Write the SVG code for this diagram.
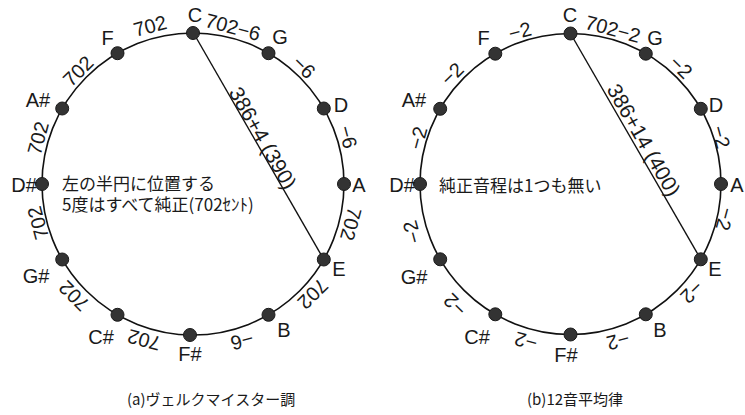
<svg xmlns="http://www.w3.org/2000/svg" width="745" height="415" viewBox="0 0 745 415">
<style>
.circ{fill:none;stroke:#111;stroke-width:1.6}
.chord{stroke:#111;stroke-width:1.4}
.dot{fill:#333;stroke:#1a1a1a;stroke-width:1}
.nm{font-family:"Liberation Sans",Arial,sans-serif;font-size:20px;fill:#1a1a1a;text-anchor:middle}
.iv{font-family:"Liberation Sans",Arial,sans-serif;font-size:20px;fill:#1a1a1a;text-anchor:middle;dominant-baseline:central}
.ch{font-family:"Liberation Sans",Arial,sans-serif;font-size:21px;fill:#1a1a1a;text-anchor:middle;dominant-baseline:central}
.jp{font-family:"Noto Sans CJK JP",sans-serif;font-size:17px;fill:#1a1a1a}
.cap{font-family:"Noto Sans CJK JP",sans-serif;font-size:15px;fill:#1a1a1a}
</style>
<rect width="745" height="415" fill="#fff"/>
<g id="connectors">
<circle class="circ" cx="193" cy="184" r="151"/>
<line class="chord" x1="193.5" y1="33" x2="323.8" y2="259.5"/>
<circle class="circ" cx="570.5" cy="184" r="150.5"/>
<line class="chord" x1="570.5" y1="33.5" x2="700.8" y2="259.3"/>
</g>
<g id="left-circle">
<g id="L-C"><circle class="dot" cx="193" cy="33" r="6.5"/><text class="nm" x="195" y="22">C</text></g>
<g id="L-G"><circle class="dot" cx="268.5" cy="53.2" r="6.5"/><text class="nm" x="280" y="44">G</text></g>
<g id="L-D"><circle class="dot" cx="323.8" cy="108.5" r="6.5"/><text class="nm" x="341" y="112">D</text></g>
<g id="L-A"><circle class="dot" cx="344" cy="184" r="6.5"/><text class="nm" x="359" y="192">A</text></g>
<g id="L-E"><circle class="dot" cx="323.8" cy="259.5" r="6.5"/><text class="nm" x="339" y="276">E</text></g>
<g id="L-B"><circle class="dot" cx="268.5" cy="314.8" r="6.5"/><text class="nm" x="284" y="337">B</text></g>
<g id="L-Fs"><circle class="dot" cx="190" cy="335" r="6.5"/><text class="nm" x="190" y="361">F#</text></g>
<g id="L-Cs"><circle class="dot" cx="117.5" cy="314.8" r="6.5"/><text class="nm" x="101" y="344">C#</text></g>
<g id="L-Gs"><circle class="dot" cx="62.2" cy="259.5" r="6.5"/><text class="nm" x="36" y="283">G#</text></g>
<g id="L-Ds"><circle class="dot" cx="42" cy="184" r="6.5"/><text class="nm" x="24" y="192">D#</text></g>
<g id="L-As"><circle class="dot" cx="62.2" cy="108.5" r="6.5"/><text class="nm" x="38" y="107">A#</text></g>
<g id="L-F"><circle class="dot" cx="117.5" cy="53.2" r="6.5"/><text class="nm" x="107.5" y="45">F</text></g>
<g id="L-labels">
<text class="iv" transform="translate(150,26) rotate(-15)">702</text>
<text class="iv" transform="translate(233,27) rotate(15)">702−6</text>
<text class="iv" transform="translate(304,67) rotate(45)">−6</text>
<text class="iv" transform="translate(348,137) rotate(75)">−6</text>
<text class="iv" transform="translate(351,224) rotate(105)">702</text>
<text class="iv" transform="translate(313,294) rotate(135)">702</text>
<text class="iv" transform="translate(242,341) rotate(165)">−6</text>
<text class="iv" transform="translate(144,340) rotate(195)">702</text>
<text class="iv" transform="translate(74,296) rotate(225)">702</text>
<text class="iv" transform="translate(38,223) rotate(255)">702</text>
<text class="iv" transform="translate(38,138) rotate(285)">702</text>
<text class="iv" transform="translate(78,71) rotate(315)">702</text>
<text class="ch" transform="translate(263,138) rotate(60.2)">386+4 (390)</text>
</g>
<g id="L-note">
<text class="jp" x="62" y="190">左の半円に位置する</text>
<text class="jp" x="62" y="211">5度はすべて純正(702ｾﾝﾄ)</text>
</g>
<text class="cap" x="127" y="405">(a)ヴェルクマイスター調</text>
</g>
<g id="right-circle">
<g id="R-C"><circle class="dot" cx="570.5" cy="33.5" r="6.5"/><text class="nm" x="570" y="22">C</text></g>
<g id="R-G"><circle class="dot" cx="645.8" cy="53.7" r="6.5"/><text class="nm" x="655" y="45">G</text></g>
<g id="R-D"><circle class="dot" cx="700.8" cy="108.8" r="6.5"/><text class="nm" x="716" y="112">D</text></g>
<g id="R-A"><circle class="dot" cx="721" cy="184" r="6.5"/><text class="nm" x="737" y="192">A</text></g>
<g id="R-E"><circle class="dot" cx="700.8" cy="259.3" r="6.5"/><text class="nm" x="715" y="276">E</text></g>
<g id="R-B"><circle class="dot" cx="645.8" cy="314.3" r="6.5"/><text class="nm" x="660" y="337">B</text></g>
<g id="R-Fs"><circle class="dot" cx="570.5" cy="334.5" r="6.5"/><text class="nm" x="566" y="362">F#</text></g>
<g id="R-Cs"><circle class="dot" cx="495.3" cy="314.3" r="6.5"/><text class="nm" x="477" y="344">C#</text></g>
<g id="R-Gs"><circle class="dot" cx="440.2" cy="259.3" r="6.5"/><text class="nm" x="414" y="284">G#</text></g>
<g id="R-Ds"><circle class="dot" cx="420" cy="184" r="6.5"/><text class="nm" x="402" y="192">D#</text></g>
<g id="R-As"><circle class="dot" cx="440.2" cy="108.8" r="6.5"/><text class="nm" x="414" y="107">A#</text></g>
<g id="R-F"><circle class="dot" cx="495.3" cy="53.7" r="6.5"/><text class="nm" x="483.5" y="45">F</text></g>
<g id="R-labels">
<text class="iv" transform="translate(520,31) rotate(-15)">−2</text>
<text class="iv" transform="translate(613,29) rotate(15)">702−2</text>
<text class="iv" transform="translate(681,67) rotate(45)">−2</text>
<text class="iv" transform="translate(721,137) rotate(75)">−2</text>
<text class="iv" transform="translate(725,219) rotate(105)">−2</text>
<text class="iv" transform="translate(692,292) rotate(135)">−2</text>
<text class="iv" transform="translate(618,341) rotate(165)">−2</text>
<text class="iv" transform="translate(526,341) rotate(195)">−2</text>
<text class="iv" transform="translate(455,305) rotate(225)">−2</text>
<text class="iv" transform="translate(412,232) rotate(255)">−2</text>
<text class="iv" transform="translate(418,138) rotate(285)">−2</text>
<text class="iv" transform="translate(452,74) rotate(315)">−2</text>
<text class="ch" transform="translate(644,140) rotate(60.2)">386+14 (400)</text>
</g>
<g id="R-note">
<text class="jp" x="439" y="192">純正音程は1つも無い</text>
</g>
<text class="cap" x="527" y="405">(b)12音平均律</text>
</g>
</svg>
